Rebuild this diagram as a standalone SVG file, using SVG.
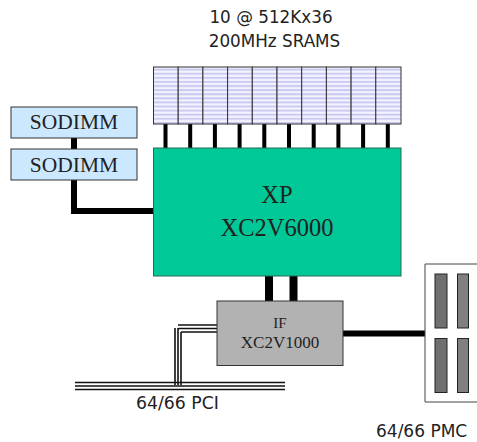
<svg xmlns="http://www.w3.org/2000/svg" width="477" height="442" viewBox="0 0 477 442">
<style>
.sans{font-family:"DejaVu Sans","Liberation Sans",sans-serif;fill:#222}
.serif{font-family:"Liberation Serif",serif;fill:#222;text-anchor:middle}
.cell{fill:url(#stripes);stroke:#333;stroke-width:1}
.slot{stroke:#222;stroke-width:1}
.thin{fill:none;stroke:#111;stroke-width:1.6}
.thick{fill:none;stroke:#000}
</style>
<defs>
<pattern id="stripes" width="4" height="4.1" patternUnits="userSpaceOnUse" patternTransform="translate(0 67)">
<rect width="4" height="4.1" fill="#f4f4ff"/><rect y="1.6" width="4" height="2" fill="#c9c9f2"/>
</pattern>
</defs>
<rect width="477" height="442" fill="#fff"/>
<g id="connectors">
<path class="thick" stroke-width="4" d="M165.500 124V148M190.200 124V148M214.900 124V148M239.600 124V148M264.300 124V148M289 124V148M313.700 124V148M338.400 124V148M363.100 124V148M387.800 124V148"/>
<path class="thick" stroke-width="6" d="M74 138V149M74 180V211H153"/>
<path class="thick" stroke-width="8" d="M269 276V301"/>
<path class="thick" stroke-width="8" d="M293.500 276V301"/>
<path class="thick" stroke-width="6" d="M343 333.500H425"/>
<path class="thin" d="M178 325H217M178.500 328.500H217M181 332H217M175 328V385M178 328V385M181 332V385M75 382.500H285M75 386H285M75 389.500H285"/>
</g>
<g id="srams">
<rect class="cell" x="153.500" y="67" width="24.700" height="57"/>
<rect class="cell" x="178.200" y="67" width="24.700" height="57"/>
<rect class="cell" x="202.900" y="67" width="24.700" height="57"/>
<rect class="cell" x="227.600" y="67" width="24.700" height="57"/>
<rect class="cell" x="252.300" y="67" width="24.700" height="57"/>
<rect class="cell" x="277" y="67" width="24.700" height="57"/>
<rect class="cell" x="301.700" y="67" width="24.700" height="57"/>
<rect class="cell" x="326.400" y="67" width="24.700" height="57"/>
<rect class="cell" x="351.100" y="67" width="24.700" height="57"/>
<rect class="cell" x="375.800" y="67" width="25.200" height="57"/>
</g>
<g id="sram-label" class="sans" font-size="16.800">
<text x="271" y="23" text-anchor="middle">10 @ 512Kx36</text>
<text x="274.500" y="47" text-anchor="middle">200MHz SRAMS</text>
</g>
<g id="sodimm1">
<rect x="11" y="107" width="126" height="31" fill="#cce8ff" stroke="#333"/>
<text class="serif" x="74" y="129" font-size="21.500">SODIMM</text>
</g>
<g id="sodimm2">
<rect x="11" y="149" width="126" height="31" fill="#cce8ff" stroke="#333"/>
<text class="serif" x="74" y="171.500" font-size="21.500">SODIMM</text>
</g>
<g id="xp">
<rect x="153.500" y="148" width="247.500" height="128" fill="#00c896" stroke="#2a6a58"/>
<text class="serif" x="277" y="203" font-size="24.500">XP</text>
<text class="serif" x="277" y="236" font-size="24.500">XC2V6000</text>
</g>
<g id="if">
<rect x="217" y="301" width="126" height="64.500" fill="#b2b2b2" stroke="#333"/>
<text class="serif" x="280" y="328" font-size="15">IF</text>
<text class="serif" x="280" y="348" font-size="17">XC2V1000</text>
</g>
<g id="pmc">
<path d="M477 264H425V402H477" fill="#fff" stroke="#444"/>
<rect class="slot" x="435" y="274" width="12" height="54" fill="#707070"/>
<rect class="slot" x="457.500" y="274" width="11" height="54" fill="#808080"/>
<rect class="slot" x="435" y="338.500" width="12" height="54" fill="#707070"/>
<rect class="slot" x="457.500" y="338.500" width="11" height="54" fill="#808080"/>
</g>
<text class="sans" x="136" y="409" font-size="17.300">64/66 PCI</text>
<text class="sans" x="376" y="437" font-size="17">64/66 PMC</text>
</svg>
